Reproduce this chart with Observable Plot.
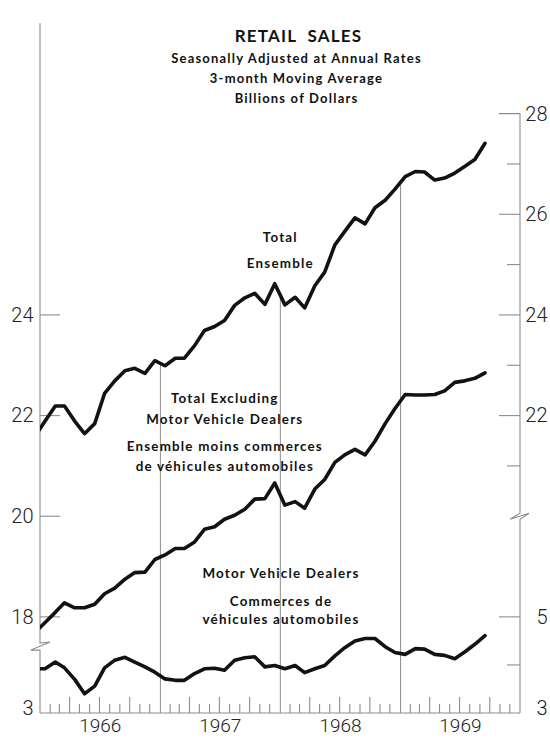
<!DOCTYPE html>
<html>
<head>
<meta charset="utf-8">
<script src="https://cdn.jsdelivr.net/npm/d3@7"></script>
<script src="https://cdn.jsdelivr.net/npm/@observablehq/plot@0.6"></script>
<style>
  html, body { margin: 0; padding: 0; background: #fff; }
  #chart { width: 550px; height: 740px; }
  #chart svg g[font-family="Lato"] text { letter-spacing: 1.2px; }
</style>
</head>
<body>
<div id="chart"></div>
<script>
// ---------- data ----------
const months = [
  "1965-12",
  "1966-01","1966-02","1966-03","1966-04","1966-05","1966-06","1966-07","1966-08","1966-09","1966-10","1966-11","1966-12",
  "1967-01","1967-02","1967-03","1967-04","1967-05","1967-06","1967-07","1967-08","1967-09","1967-10","1967-11","1967-12",
  "1968-01","1968-02","1968-03","1968-04","1968-05","1968-06","1968-07","1968-08","1968-09","1968-10","1968-11","1968-12",
  "1969-01","1969-02","1969-03","1969-04","1969-05","1969-06","1969-07","1969-08","1969-09"
];
// Total / Ensemble (billions, right scale)
const totalValues = [
  21.6,
  21.9, 22.2, 22.2, 21.9, 21.65, 21.85, 22.45, 22.7, 22.9, 22.95, 22.85, 23.1,
  23.0, 23.15, 23.15, 23.4, 23.7, 23.78, 23.9, 24.2, 24.35, 24.44, 24.22, 24.63,
  24.21, 24.36, 24.15, 24.59, 24.86, 25.4, 25.67, 25.94, 25.82, 26.14, 26.29, 26.51,
  26.76, 26.86, 26.85, 26.69, 26.73, 26.83, 26.96, 27.1, 27.42
];
// Total excluding motor vehicle dealers (billions, left scale)
const exclValues = [
  17.7,
  17.9, 18.1, 18.29, 18.19, 18.19, 18.26, 18.47, 18.58, 18.76, 18.89, 18.9, 19.15,
  19.24, 19.37, 19.37, 19.5, 19.75, 19.8, 19.95, 20.03, 20.15, 20.35, 20.36, 20.67,
  20.23, 20.3, 20.17, 20.55, 20.74, 21.08, 21.23, 21.34, 21.23, 21.5, 21.85, 22.15,
  22.43, 22.42, 22.42, 22.43, 22.5, 22.67, 22.7, 22.75, 22.86
];
// Motor vehicle dealers (billions, lower scale)
const mvdValues = [
  3.93,
  3.93, 4.07, 3.95, 3.71, 3.41, 3.57, 3.95, 4.11, 4.17, 4.07, 3.97, 3.86,
  3.72, 3.69, 3.69, 3.83, 3.93, 3.94, 3.90, 4.11, 4.16, 4.18, 3.97, 4.00,
  3.93, 4.00, 3.85, 3.93, 4.00, 4.20, 4.37, 4.51, 4.56, 4.56, 4.39, 4.27,
  4.23, 4.35, 4.34, 4.23, 4.21, 4.14, 4.28, 4.44, 4.62
];

const leftTicks = [24, 22, 20, 18];
const rightMajorTicks = [28, 26, 24, 22];
const rightMinorTicks = [27, 25, 23, 21];
const mvdMajorTicks = [5];
const mvdMinorTicks = [4];
const mvdBaseTick = [3];
const yearLabels = ["1966", "1967", "1968", "1969"];
const titleLines = ["RETAIL  SALES", "Seasonally Adjusted at Annual Rates", "3-month Moving Average", "Billions of Dollars"];
const totalLabel = ["Total", "Ensemble"];
const exclLabelEn = ["Total Excluding", "Motor Vehicle Dealers"];
const exclLabelFr = ["Ensemble moins commerces", "de véhicules automobiles"];
const mvdLabelEn = ["Motor Vehicle Dealers"];
const mvdLabelFr = ["Commerces de", "véhicules automobiles"];

// ---------- scales ----------
const LABEL_FONT = "Lato";
const NUM_FONT = "Roboto";
const INK = "#121212";
const AXIS_COLOR = "#8d8d8d";

const parseMonth = s => new Date(Date.UTC(+s.slice(0, 4), +s.slice(5, 7) - 1, 15));
const X_START = new Date(Date.UTC(1966, 0, 1));
const X_END = new Date(Date.UTC(1970, 0, 1));

const Y_TOP = 29.96;
const MVD_RATIO = 0.955;                       // lower scale is slightly tighter
const mvdToMain = m => 18 - (5 - m) * MVD_RATIO; // MVD 5 sits level with 18
const Y_BOTTOM = mvdToMain(3);
const LEFT_BREAK = 17.4;
const RIGHT_BREAK = 20.0;

const rows = months.map((m, i) => ({
  date: parseMonth(m),
  total: totalValues[i],
  excl: exclValues[i],
  mvd: mvdToMain(mvdValues[i])
}));

function totalAt(date) {
  const i = d3.bisector(d => d.date).left(rows, date);
  const a = rows[i - 1], b = rows[i];
  const t = (date - a.date) / (b.date - a.date);
  return a.total + t * (b.total - a.total);
}
const gridDates = yearLabels.slice(1).map(y => new Date(Date.UTC(+y, 0, 1)));
const yearMid = y => new Date(Date.UTC(+y, 6, 2));
const at = (y, m, d) => () => new Date(Date.UTC(y, m, d));

const lineStyle = {stroke: INK, strokeWidth: 3.6, strokeLinejoin: "round", strokeLinecap: "round", clip: true};
const labelStyle = {fontFamily: LABEL_FONT, fontWeight: 700, fontSize: 13.4, fill: INK, lineAnchor: "middle"};
const numStyle = {fontFamily: NUM_FONT, fontWeight: 300, fontSize: 20, fill: "#222"};

const plot = Plot.plot({
  width: 550,
  height: 740,
  marginTop: 15,
  marginBottom: 27,
  marginLeft: 40,
  marginRight: 30,
  style: {background: "white", overflow: "visible"},
  x: {type: "utc", domain: [X_START, X_END], axis: null},
  y: {domain: [Y_BOTTOM, Y_TOP], axis: null},
  marks: [
    Plot.ruleX(gridDates, {x: d => d, y1: Y_BOTTOM, y2: d => totalAt(d), stroke: AXIS_COLOR, strokeWidth: 1}),
    Plot.line(rows, {x: "date", y: "total", ...lineStyle}),
    Plot.line(rows, {x: "date", y: "excl", ...lineStyle}),
    Plot.line(rows, {x: "date", y: "mvd", ...lineStyle}),

    // title block
    Plot.text([titleLines[0]], {text: d => d, frameAnchor: "top", dx: 18, dy: 21, ...labelStyle, fontSize: 17}),
    Plot.text([titleLines.slice(1).join("\n")], {text: d => d, frameAnchor: "top", dx: 16, dy: 61, lineHeight: 1.55, ...labelStyle, fontSize: 13}),

    // series labels
    Plot.text([totalLabel.join("\n")], {text: d => d, x: at(1968, 0, 1), y: () => 25.36, lineHeight: 1.95, ...labelStyle}),
    Plot.text([exclLabelEn.join("\n")], {text: d => d, x: at(1967, 6, 16), y: () => 22.18, lineHeight: 1.55, ...labelStyle}),
    Plot.text([exclLabelFr.join("\n")], {text: d => d, x: at(1967, 6, 16), y: () => 21.24, lineHeight: 1.5, ...labelStyle}),
    Plot.text([mvdLabelEn.join("\n")], {text: d => d, x: at(1968, 0, 3), y: () => 18.87, ...labelStyle}),
    Plot.text([mvdLabelFr.join("\n")], {text: d => d, x: at(1968, 0, 3), y: () => 18.16, lineHeight: 1.35, ...labelStyle}),

    // axis labels
    Plot.text(leftTicks, {x: () => X_START, y: d => d, dx: -7, textAnchor: "end", text: d => String(d), ...numStyle}),
    Plot.text(mvdBaseTick, {x: () => X_START, y: d => mvdToMain(d), dx: -7, dy: -5, textAnchor: "end", text: d => String(d), ...numStyle}),
    Plot.text(rightMajorTicks, {x: () => X_END, y: d => d, dx: 27, textAnchor: "end", text: d => String(d), ...numStyle}),
    Plot.text(mvdMajorTicks, {x: () => X_END, y: d => mvdToMain(d), dx: 27, textAnchor: "end", text: d => String(d), ...numStyle}),
    Plot.text(mvdBaseTick, {x: () => X_END, y: d => mvdToMain(d), dx: 27, dy: -5, textAnchor: "end", text: d => String(d), ...numStyle}),
    Plot.text(yearLabels, {x: d => yearMid(d), y: () => Y_BOTTOM, dy: 12, text: d => d, ...numStyle, fontSize: 19})
  ]
});

document.getElementById("chart").appendChild(plot);

// ---------- axes, ticks and breaks drawn through the plot's scales ----------
const sx = plot.scale("x"), sy = plot.scale("y");
const X = d => sx.apply(d), Y = v => sy.apply(v);
const svg = d3.select(plot);
const x0 = X(X_START), x1 = X(X_END), yb = Y(Y_BOTTOM), yt = Y(Y_TOP);

const axisG = svg.insert("g", ":first-child")
  .attr("fill", "none").attr("stroke", AXIS_COLOR).attr("stroke-width", 1.1);

const lb = Y(LEFT_BREAK), rb = Y(RIGHT_BREAK);
// left axis with break
axisG.append("path").attr("d",
  `M${x0 - 2},${yt}H${x0 + 28}M${x0},${yt}V${lb - 4}L${x0 + 10},${lb - 5}L${x0 - 9},${lb + 3}L${x0},${lb + 3}V${yb}`);
// bottom axis
axisG.append("path").attr("d", `M${x0},${yb}H${x1}`);
// right axis with break
axisG.append("path").attr("d",
  `M${x1 - 21},${Y(28)}H${x1}V${rb - 3}L${x1 - 10},${rb + 3}L${x1 + 9},${rb - 3}L${x1},${rb + 3}V${yb}`);
// left ticks (inward)
leftTicks.forEach(v => axisG.append("path").attr("d", `M${x0},${Y(v)}h20`));
// right ticks
rightMajorTicks.filter(v => v !== 28).forEach(v => axisG.append("path").attr("d", `M${x1},${Y(v)}h-21`));
rightMinorTicks.forEach(v => axisG.append("path").attr("d", `M${x1},${Y(v)}h-13`));
mvdMajorTicks.forEach(v => axisG.append("path").attr("d", `M${x1},${Y(mvdToMain(v))}h-21`));
mvdMinorTicks.forEach(v => axisG.append("path").attr("d", `M${x1},${Y(mvdToMain(v))}h-13`));
// monthly ticks on the time axis
d3.utcMonth.range(new Date(Date.UTC(1966, 1, 1)), X_END)
  .filter(d => d.getUTCMonth() !== 0)
  .forEach(d => {
    const tall = d.getUTCMonth() % 3 === 0;
    axisG.append("path").attr("d", `M${X(d)},${yb}v${tall ? -16 : -9}`);
  });

// ---------- white masks behind the label blocks (interrupt the grid lines) ----------
const groups = {excl: [], mvd: []};
svg.selectAll("text").each(function () {
  const t = this.textContent;
  if (t.startsWith("Total Excluding") || t.startsWith("Ensemble moins")) groups.excl.push(this);
  else if (t === "Motor Vehicle Dealers" || t.startsWith("Commerces de")) groups.mvd.push(this);
});
const firstLine = plot.querySelector('g[aria-label="line"]');
Object.values(groups).forEach(list => {
  if (!list.length) return;
  let xa = Infinity, ya = Infinity, xb = -Infinity, yb2 = -Infinity;
  list.forEach(el => {
    const b = el.getBBox();
    xa = Math.min(xa, b.x); ya = Math.min(ya, b.y);
    xb = Math.max(xb, b.x + b.width); yb2 = Math.max(yb2, b.y + b.height);
  });
  const r = document.createElementNS("http://www.w3.org/2000/svg", "rect");
  r.setAttribute("x", xa - 3); r.setAttribute("y", ya - 3);
  r.setAttribute("width", xb - xa + 6); r.setAttribute("height", yb2 - ya + 6);
  r.setAttribute("fill", "white");
  firstLine.parentNode.insertBefore(r, firstLine);
});
</script>
</body>
</html>
